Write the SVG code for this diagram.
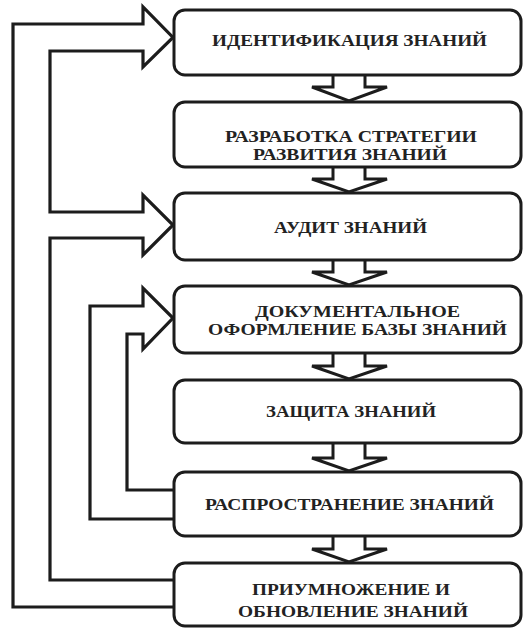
<svg xmlns="http://www.w3.org/2000/svg" width="524" height="628" viewBox="0 0 524 628" font-family="Liberation Serif, DejaVu Serif, serif">
<style>
.box{fill:#fff;stroke:#1c1c1c;stroke-width:3}
.arr{fill:#fff;stroke:#1c1c1c;stroke-width:3;stroke-linejoin:miter}
.fb{fill:none;stroke:#1c1c1c;stroke-width:3.2;stroke-linejoin:miter}
.t{font-weight:bold;font-size:16px;fill:#222;text-anchor:middle}
</style>
<rect width="524" height="628" fill="#fff"/>
<g id="connectors">
<path class="arr" d="M333,75 V87 H312 L349,101 L387,87 H365 V75"/>
<path class="arr" d="M333,167 V179 H312 L349,192 L387,179 H365 V167"/>
<path class="arr" d="M333,260 V272 H312 L349,285 L387,272 H365 V260"/>
<path class="arr" d="M333,353 V366 H312 L349,379 L387,366 H365 V353"/>
<path class="arr" d="M333,443 V458 H312 L349,471 L387,458 H365 V443"/>
<path class="arr" d="M333,536 V549 H312 L349,562 L387,549 H365 V536"/>
<path class="fb" d="M174,607 H13 V24 H143 V7 L173,37.5 L143,67 V51 H50 V212 H143 V195 L173,225 L143,255 V238 H50 V580 H174"/>
<path class="fb" d="M174,519 H90 V306 H143 V288 L173,318 L143,349 V334 H127 V490 H174"/>
</g>
<g id="n1"><rect class="box" x="174" y="10" width="347" height="65" rx="11"/>
<text class="t" x="349.5" y="46" textLength="275" lengthAdjust="spacingAndGlyphs">ИДЕНТИФИКАЦИЯ ЗНАНИЙ</text></g>
<g id="n2"><rect class="box" x="174" y="102" width="347" height="65" rx="11"/>
<text class="t" x="351" y="142" textLength="252" lengthAdjust="spacingAndGlyphs">РАЗРАБОТКА СТРАТЕГИИ</text>
<text class="t" x="350" y="160" textLength="194" lengthAdjust="spacingAndGlyphs">РАЗВИТИЯ ЗНАНИЙ</text></g>
<g id="n3"><rect class="box" x="174" y="193" width="347" height="67" rx="11"/>
<text class="t" x="350.5" y="233" textLength="153" lengthAdjust="spacingAndGlyphs">АУДИТ ЗНАНИЙ</text></g>
<g id="n4"><rect class="box" x="174" y="286" width="347" height="67" rx="11"/>
<text class="t" x="357.5" y="317" textLength="205" lengthAdjust="spacingAndGlyphs">ДОКУМЕНТАЛЬНОЕ</text>
<text class="t" x="357.5" y="335" textLength="299" lengthAdjust="spacingAndGlyphs">ОФОРМЛЕНИЕ БАЗЫ ЗНАНИЙ</text></g>
<g id="n5"><rect class="box" x="174" y="380" width="347" height="63" rx="11"/>
<text class="t" x="351" y="417" textLength="170" lengthAdjust="spacingAndGlyphs">ЗАЩИТА ЗНАНИЙ</text></g>
<g id="n6"><rect class="box" x="174" y="472" width="347" height="64" rx="11"/>
<text class="t" x="349.5" y="510" textLength="289" lengthAdjust="spacingAndGlyphs">РАСПРОСТРАНЕНИЕ ЗНАНИЙ</text></g>
<g id="n7"><rect class="box" x="174" y="563" width="347" height="63" rx="11"/>
<text class="t" x="351" y="595" textLength="198" lengthAdjust="spacingAndGlyphs">ПРИУМНОЖЕНИЕ И</text>
<text class="t" x="353" y="617" textLength="230" lengthAdjust="spacingAndGlyphs">ОБНОВЛЕНИЕ ЗНАНИЙ</text></g>
</svg>
